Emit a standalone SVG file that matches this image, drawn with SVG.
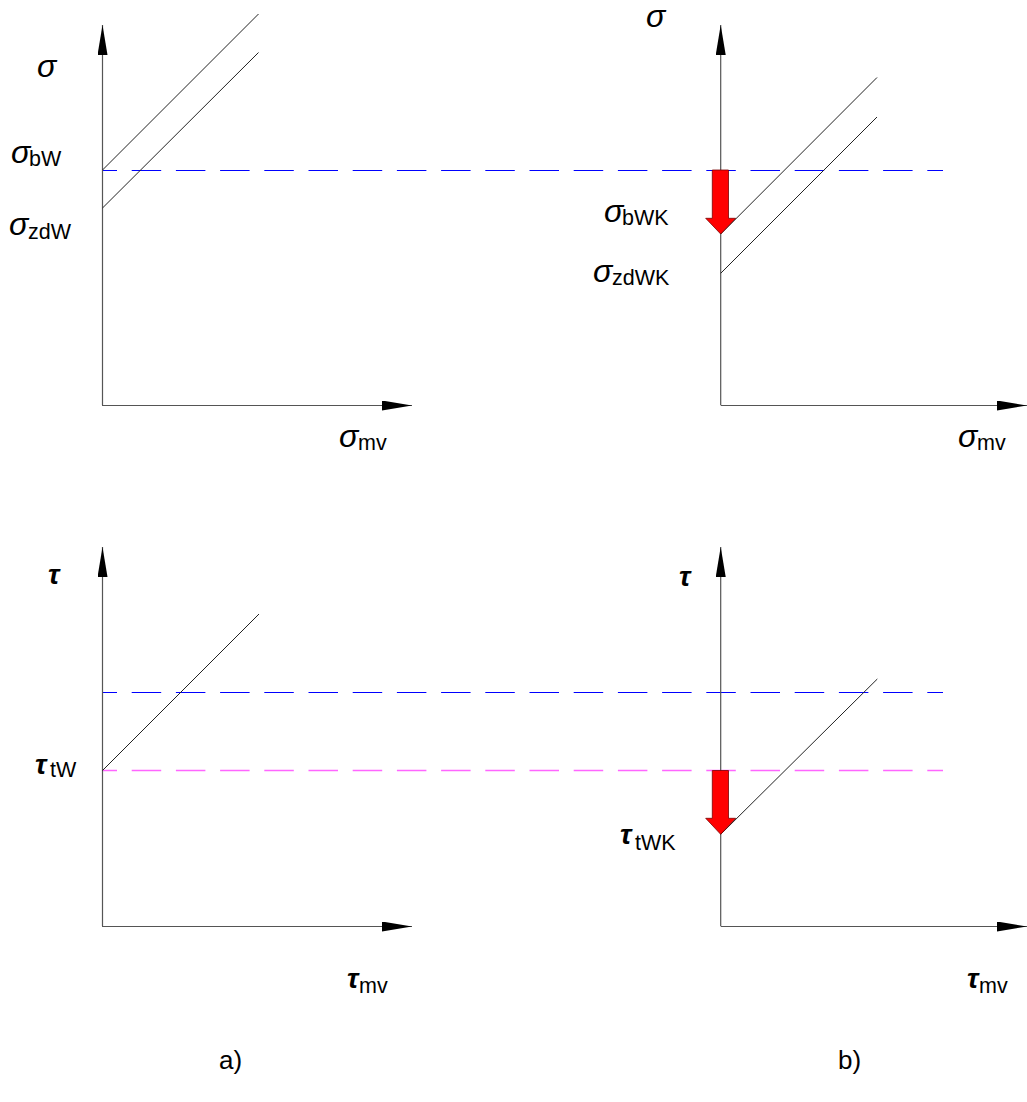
<svg xmlns="http://www.w3.org/2000/svg" width="1027" height="1102" viewBox="0 0 1027 1102">
<style>
.axis{stroke:#555;stroke-width:1.2;fill:none}
.head{fill:#000;stroke:none}
.diag{stroke:#222;stroke-width:1;fill:none}
.blue{stroke:#0000ff;stroke-width:1;stroke-dasharray:29.5 14.7;stroke-dashoffset:14.5;fill:none}
.mag{stroke:#ff66ff;stroke-width:1.5;stroke-dasharray:29.5 14.7;stroke-dashoffset:14.5;fill:none}
.red{fill:#ff0000;stroke:#7a0000;stroke-width:0.8}
text{font-family:"Liberation Sans",Arial,sans-serif;fill:#000}
.sg{font-size:32px;font-style:italic}
.tau{font-size:28px;font-style:italic;font-weight:bold}
.sub{font-size:21.5px}
.lab{font-size:26px}
</style>
<defs>
<marker id="ah" viewBox="0 0 30 10" refX="30" refY="5" markerWidth="30" markerHeight="10" markerUnits="userSpaceOnUse" orient="auto">
<path d="M0,0 L30,5 L0,10 Z" class="head"/>
</marker>
</defs>
<g id="connectors">
<line class="blue" x1="102" y1="170.5" x2="943" y2="170.5"/>
<line class="blue" x1="102" y1="692.5" x2="943" y2="692.5"/>
<line class="mag" x1="102" y1="770.5" x2="943" y2="770.5"/>
</g>
<g id="panel-a-top">
<line class="axis" x1="102.5" y1="405" x2="102.5" y2="25" marker-end="url(#ah)"/>
<line class="axis" x1="102" y1="405.5" x2="412" y2="405.5" marker-end="url(#ah)"/>
<line class="diag" x1="102.5" y1="170" x2="258.5" y2="14"/>
<line class="diag" x1="102.5" y1="208" x2="258.5" y2="52.5"/>
<text class="sg" x="37" y="77">σ</text>
<text x="11" y="163"><tspan class="sg">σ</tspan><tspan class="sub" x="29" y="166">bW</tspan></text>
<text x="9" y="235"><tspan class="sg">σ</tspan><tspan class="sub" x="28" y="239">zdW</tspan></text>
<text x="339" y="447"><tspan class="sg">σ</tspan><tspan class="sub" x="358" y="450">mv</tspan></text>
</g>
<g id="panel-b-top">
<line class="axis" x1="720.7" y1="405" x2="720.7" y2="25" marker-end="url(#ah)"/>
<line class="axis" x1="720.7" y1="405.5" x2="1027" y2="405.5" marker-end="url(#ah)"/>
<line class="diag" x1="720.7" y1="234" x2="877" y2="77.5"/>
<line class="diag" x1="720.7" y1="273.3" x2="877" y2="117"/>
<polygon class="red" points="712.3,170 728.5,170 728.5,218.3 735.7,218.3 720.7,234 705.7,218.3 712.3,218.3"/>
<text class="sg" x="646" y="27">σ</text>
<text x="604" y="222"><tspan class="sg">σ</tspan><tspan class="sub" x="622" y="225">bWK</tspan></text>
<text x="593" y="282"><tspan class="sg">σ</tspan><tspan class="sub" x="612" y="285">zdWK</tspan></text>
<text x="958" y="447"><tspan class="sg">σ</tspan><tspan class="sub" x="977" y="450">mv</tspan></text>
</g>
<g id="panel-a-bottom">
<line class="axis" x1="102.5" y1="926" x2="102.5" y2="547" marker-end="url(#ah)"/>
<line class="axis" x1="102" y1="926.5" x2="412" y2="926.5" marker-end="url(#ah)"/>
<line class="diag" x1="102.5" y1="770.5" x2="259" y2="614"/>
<text class="tau" x="48" y="584">τ</text>
<text x="35" y="774"><tspan class="tau">τ</tspan><tspan class="sub" x="50" y="777">tW</tspan></text>
<text x="347" y="988"><tspan class="tau">τ</tspan><tspan class="sub" x="359" y="993">mv</tspan></text>
<text class="lab" x="219" y="1069">a)</text>
</g>
<g id="panel-b-bottom">
<line class="axis" x1="720.7" y1="926" x2="720.7" y2="547" marker-end="url(#ah)"/>
<line class="axis" x1="720.7" y1="926.5" x2="1027" y2="926.5" marker-end="url(#ah)"/>
<line class="diag" x1="720.7" y1="834.3" x2="877.3" y2="679"/>
<polygon class="red" points="712.3,770.5 728.5,770.5 728.5,818.3 735.7,818.3 720.7,834.3 705.7,818.3 712.3,818.3"/>
<text class="tau" x="679" y="586">τ</text>
<text x="620" y="844"><tspan class="tau">τ</tspan><tspan class="sub" x="635" y="850">tWK</tspan></text>
<text x="967" y="988"><tspan class="tau">τ</tspan><tspan class="sub" x="979" y="993">mv</tspan></text>
<text class="lab" x="838" y="1069">b)</text>
</g>
</svg>
